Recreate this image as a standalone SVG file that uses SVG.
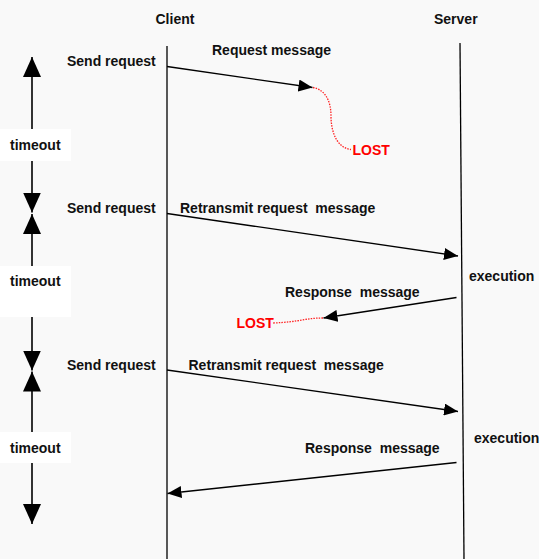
<svg xmlns="http://www.w3.org/2000/svg" width="539" height="559" viewBox="0 0 539 559">
<defs>
<style>
text{font-family:"Liberation Sans",Arial,sans-serif;font-size:14px;font-weight:bold;fill:#111}
.red{fill:#ff0000}
.msg{stroke:#000;stroke-width:1.3;fill:none}
.life{stroke:#000;stroke-width:1.3;fill:none}
.lost{stroke:#ff2020;stroke-width:1.3;stroke-dasharray:1.5 1.2;fill:none}
.tm{stroke:#000;stroke-width:1.6;fill:none}
</style>
<marker id="ah" markerUnits="userSpaceOnUse" markerWidth="14" markerHeight="12" refX="14" refY="6" orient="auto"><path d="M0,0 L14,6 L0,12 z" fill="#000"/></marker>
<marker id="big" markerUnits="userSpaceOnUse" markerWidth="20" markerHeight="18" refX="20" refY="9" orient="auto-start-reverse"><path d="M0,0 L20,9 L0,18 z" fill="#000"/></marker>
</defs>
<rect width="539" height="559" fill="#f9f9f9"/>
<g id="client"><text x="155.5" y="24">Client</text><line class="life" x1="167" y1="46" x2="167" y2="559"/></g>
<g id="server"><text x="434" y="24">Server</text><line class="life" x1="460" y1="43" x2="464" y2="559"/></g>
<g id="timeout1"><line class="tm" x1="32" y1="57" x2="32" y2="212.5" marker-start="url(#big)" marker-end="url(#big)"/><rect x="0" y="129" width="71" height="32" fill="#fff"/><text x="10" y="150">timeout</text></g>
<g id="timeout2"><line class="tm" x1="32" y1="214" x2="32" y2="370.5" marker-start="url(#big)" marker-end="url(#big)"/><rect x="0" y="266" width="71" height="51" fill="#fff"/><text x="10" y="286">timeout</text></g>
<g id="timeout3"><line class="tm" x1="32" y1="371.5" x2="32" y2="524" marker-start="url(#big)" marker-end="url(#big)"/><rect x="0" y="432" width="71" height="31" fill="#fff"/><text x="10" y="453">timeout</text></g>
<g id="labels">
<text x="67" y="66">Send request</text>
<text x="67" y="213">Send request</text>
<text x="67" y="370">Send request</text>
<text x="212" y="55">Request message</text>
<text x="180" y="213" xml:space="preserve">Retransmit request  message</text>
<text x="188.5" y="370" xml:space="preserve">Retransmit request  message</text>
<text x="285" y="297" xml:space="preserve">Response  message</text>
<text x="305" y="453" xml:space="preserve">Response  message</text>
<text x="469" y="281">execution</text>
<text x="474" y="443">execution</text>
<text class="red" x="352.5" y="155">LOST</text>
<text class="red" x="236.5" y="328">LOST</text>
</g>
<g id="connectors">
<line class="msg" x1="167" y1="66.5" x2="312.5" y2="87.5" marker-end="url(#ah)"/>
<path class="lost" d="M313,87.5 C326,90 331,102 331,116 C331,132 337,148 351,149.5"/>
<line class="msg" x1="167" y1="213.5" x2="458" y2="256" marker-end="url(#ah)"/>
<line class="msg" x1="456.5" y1="297.5" x2="323.5" y2="318" marker-end="url(#ah)"/>
<path class="lost" d="M323,318 C305,318 300,322 273,323"/>
<line class="msg" x1="167" y1="370" x2="458" y2="411.5" marker-end="url(#ah)"/>
<line class="msg" x1="456.5" y1="462.5" x2="167.5" y2="493.5" marker-end="url(#ah)"/>
</g>
</svg>
